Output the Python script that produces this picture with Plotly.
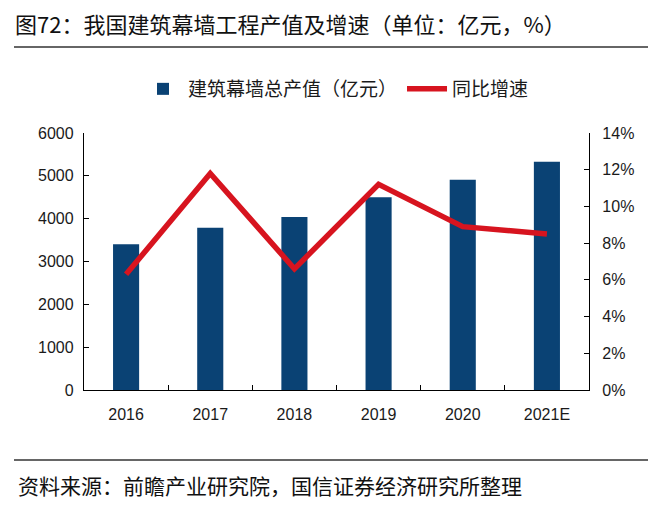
import plotly.graph_objects as go

years = ["2016", "2017", "2018", "2019", "2020", "2021E"]
output_value = [3400, 3790, 4040, 4500, 4910, 5330]   # 亿元
growth_pct = [6.3, 11.8, 6.6, 11.2, 8.9, 8.5]          # %

BAR_COLOR = "#0A4274"
LINE_COLOR = "#D7141F"
CJK = "Noto Sans CJK SC"
NUM = "Liberation Sans, Arial, sans-serif"

fig = go.Figure()
fig.add_trace(go.Bar(
    x=years, y=output_value, name="建筑幕墙总产值（亿元）",
    marker=dict(color=BAR_COLOR, line=dict(width=0)),
    yaxis="y",
))
fig.add_trace(go.Scatter(
    x=years, y=growth_pct, name="同比增速", mode="lines",
    line=dict(color=LINE_COLOR, width=5.5),
    yaxis="y2",
))

# The page body adds an 8px offset; lay out in reference-pixel terms.
OFF = 8
W, H = 662 - OFF, 506 - OFF
PLOT_L, PLOT_R, PLOT_T, PLOT_B = 84, 589, 133, 390   # reference pixels
L = PLOT_L - OFF
T = PLOT_T - OFF
R = W - (PLOT_R - OFF)
B = H - (PLOT_B - OFF)
pw, ph = PLOT_R - PLOT_L, PLOT_B - PLOT_T

def px_x(x):
    return (x - PLOT_L) / pw

def px_y(y):
    return (PLOT_B - y) / ph

axis_common = dict(
    showline=True, linecolor="#000000", linewidth=1.3,
    ticks="inside", ticklen=5, tickcolor="#000000", tickwidth=1.3,
    showgrid=False, zeroline=False,
    tickfont=dict(family=NUM, size=16, color="#1a1a1a"),
)

fig.update_layout(
    width=W, height=H,
    margin=dict(l=L, r=R, t=T, b=B, pad=0),
    paper_bgcolor="white", plot_bgcolor="white",
    bargap=0.69,
    showlegend=True,
    legend=dict(
        orientation="h", x=px_x(336), xanchor="center", y=px_y(89), yanchor="middle",
        font=dict(family=CJK, size=19, color="#1a1a1a"),
        itemwidth=40, tracegroupgap=0, bgcolor="rgba(0,0,0,0)",
    ),
    xaxis=dict(
        **axis_common, type="category", tickson="boundaries",
        range=[-0.5, 5.5], ticklabelstandoff=10,
    ),
    yaxis=dict(
        **axis_common, range=[0, 6000], dtick=1000, tick0=0,
        ticklabelstandoff=6,
    ),
    yaxis2=dict(
        **axis_common, range=[0, 14], dtick=2, tick0=0, ticksuffix="%",
        overlaying="y", side="right", ticklabelstandoff=9,
    ),
    annotations=[
        dict(text="图72：我国建筑幕墙工程产值及增速（单位：亿元，%）",
             xref="paper", yref="paper", x=px_x(13), y=px_y(23.5),
             xanchor="left", yanchor="middle", showarrow=False,
             font=dict(family=CJK, size=22, color="#111111")),
        dict(text="资料来源：前瞻产业研究院，国信证券经济研究所整理",
             xref="paper", yref="paper", x=px_x(16), y=px_y(485),
             xanchor="left", yanchor="middle", showarrow=False,
             font=dict(family=CJK, size=21, color="#111111")),
    ],
    shapes=[
        dict(type="line", xref="paper", yref="paper",
             x0=px_x(14), x1=px_x(648), y0=px_y(47), y1=px_y(47),
             line=dict(color="#333333", width=1.5)),
        dict(type="line", xref="paper", yref="paper",
             x0=px_x(14), x1=px_x(648), y0=px_y(460), y1=px_y(460),
             line=dict(color="#333333", width=1.5)),
    ],
)

fig.write_html("out.html")
